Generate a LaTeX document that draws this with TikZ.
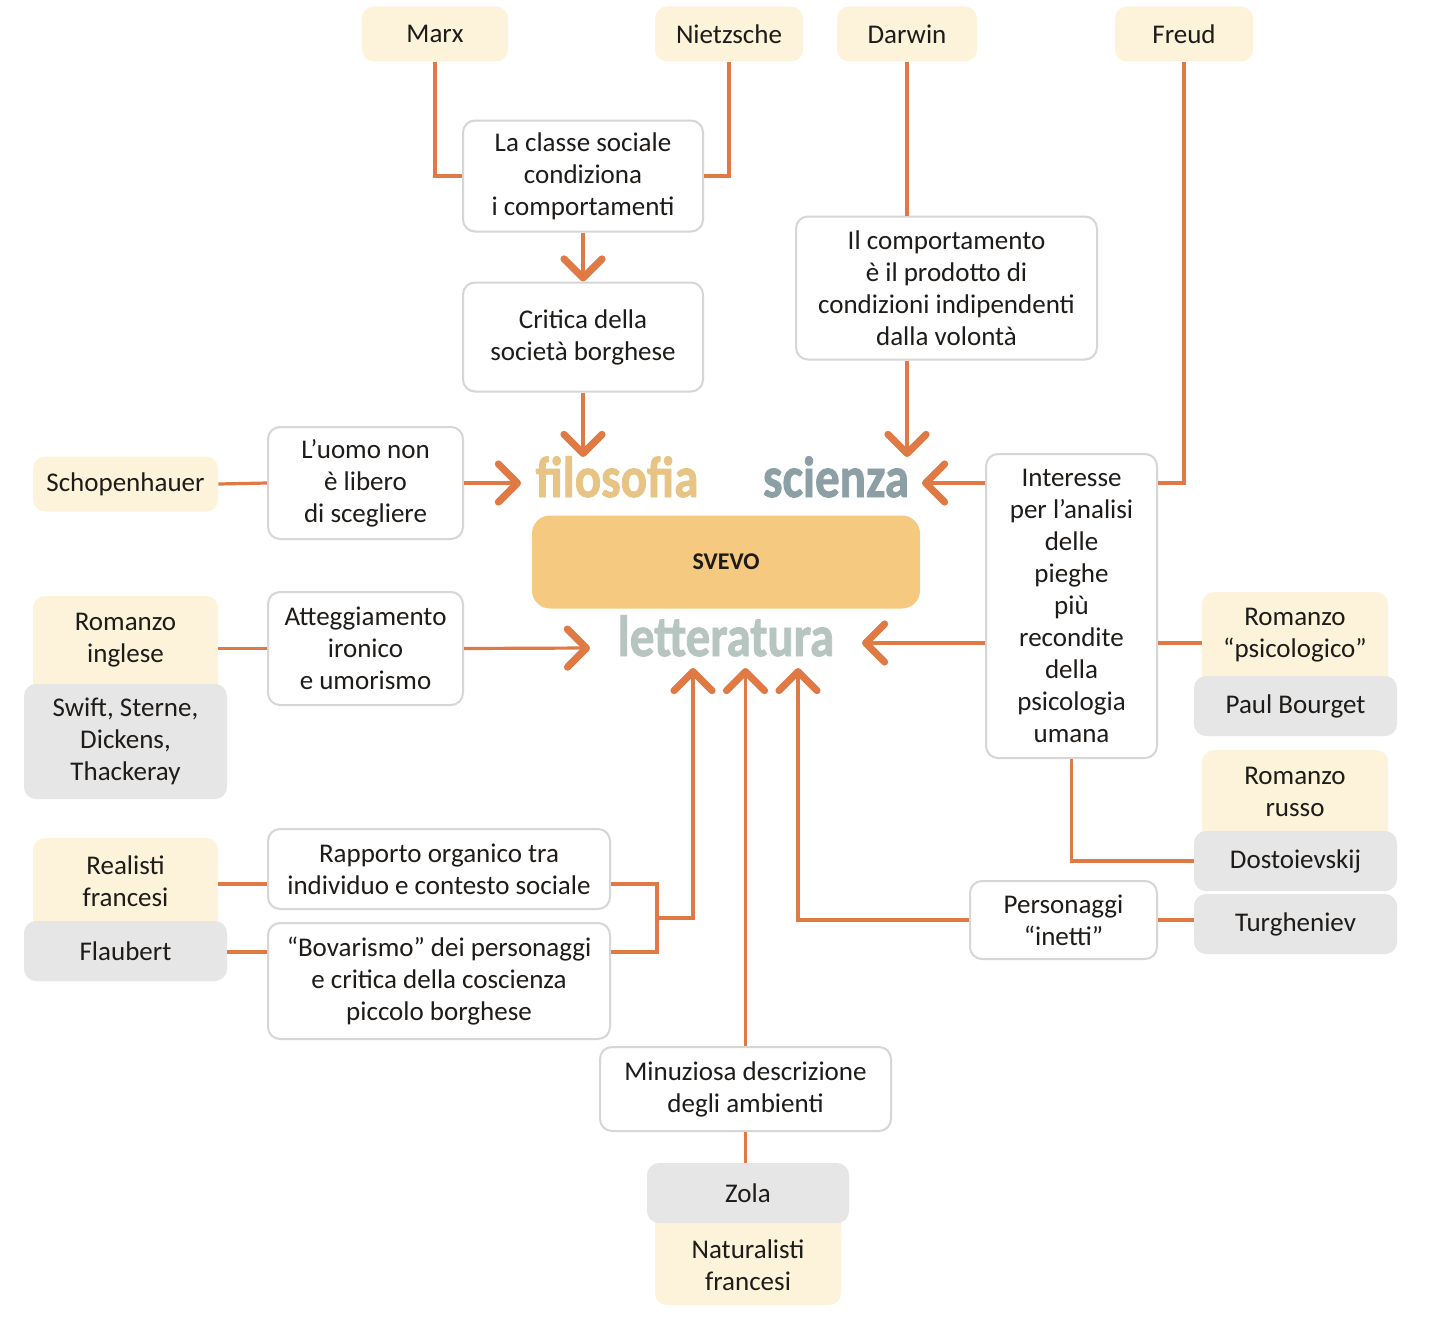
\documentclass[tikz,border=0pt]{standalone}
\usepackage{fontspec}
\setmainfont{Carlito}
\newfontfamily\headfont[BoldFeatures={FakeBold=1.6}]{Carlito}
\usetikzlibrary{arrows.meta}
\definecolor{orng}{HTML}{E07A45}
\definecolor{beig}{HTML}{FCF3DA}
\definecolor{gry}{HTML}{E6E6E6}
\definecolor{bord}{HTML}{D6D6D6}
\definecolor{svevoc}{HTML}{F5C97F}
\definecolor{filc}{HTML}{E8C484}
\definecolor{scic}{HTML}{8B9FA4}
\definecolor{letc}{HTML}{B7C5C1}
\definecolor{ink}{HTML}{1E1B18}
\begin{document}
\begin{tikzpicture}[x=0.5pt,y=-0.5pt,
 base/.style={align=center, inner sep=0pt, font=\fontsize{13.5}{16}\selectfont, text=ink, rounded corners=6pt},
 wbox/.style={base, draw=bord, line width=1pt, fill=white},
 bbox/.style={base, fill=beig},
 gbox/.style={base, fill=gry},
 tbox/.style={base},
 bgfill/.style={fill=beig, rounded corners=6pt},
 conn/.style={draw=orng, line width=1.6pt},
 arr/.style={conn, -{Straight Barb[length=9.5pt,width=19pt,line width=3.6pt,round]}},
 head/.style={inner sep=0pt, font=\fontsize{24.5}{28}\selectfont\headfont\bfseries}
]
\fill[white] (0,0) rectangle (1438,1322);
\useasboundingbox (0,0) rectangle (1438,1322);

% top row
\node[bbox, minimum width=73pt, minimum height=27.5pt] (marx) at (435,34) {Marx};
\node[bbox, minimum width=74pt, minimum height=27.5pt] (nietz) at (729,34) {Nietzsche};
\node[bbox, minimum width=70pt, minimum height=27.5pt] (darwin) at (907,34) {Darwin};
\node[bbox, minimum width=69pt, minimum height=27.5pt] (freud) at (1184,34) {Freud};

\node[wbox, minimum width=120pt, minimum height=55.5pt] (classe) at (583,176) {La classe sociale\\condiziona\\i comportamenti};
\node[wbox, minimum width=120pt, minimum height=54.5pt] (critica) at (583,337) {Critica della\\società borghese};
\node[wbox, minimum width=150.5pt, minimum height=71.5pt] (comp) at (946.5,288) {Il comportamento\\è il prodotto di\\condizioni indipendenti\\dalla volontà};

% centre
\node[base, fill=svevoc, rounded corners=9pt, minimum width=194pt, minimum height=46.5pt, font=\fontsize{12}{14}\selectfont\bfseries] (svevo) at (726,562) {SVEVO};
\node[head, text=filc, anchor=base] (fil) at (617,497) {\scalebox{1}[1.18]{filosofia}};
\node[head, text=scic, anchor=base] (sci) at (836,497) {\scalebox{1}[1.18]{scienza}};
\node[head, text=letc, anchor=base] (let) at (726,656) {\scalebox{1}[1.18]{letteratura}};

% left side
\node[bbox, minimum width=92.5pt, minimum height=27.5pt] (schop) at (125.5,484) {Schopenhauer};
\node[wbox, minimum width=97.5pt, minimum height=56pt] (uomo) at (365.5,483) {L’uomo non\\è libero\\di scegliere};

\fill[bgfill] (33,596) rectangle (218,700);
\node[gbox, minimum width=101.5pt, minimum height=57.5pt] (swift) at (125.5,741.5) {Swift, Sterne,\\Dickens,\\Thackeray};
\node[tbox, minimum width=92.5pt, minimum height=43pt] (ingl) at (125.5,640) {Romanzo\\inglese};
\node[wbox, minimum width=97.5pt, minimum height=56.5pt] (att) at (365.5,648.5) {Atteggiamento\\ironico\\e umorismo};

\fill[bgfill] (33,838) rectangle (218,935);
\node[gbox, minimum width=101.5pt, minimum height=30pt] (flau) at (125.5,951) {Flaubert};
\node[tbox, minimum width=92.5pt, minimum height=40pt] (real) at (125.5,881) {Realisti\\francesi};
\node[wbox, minimum width=171pt, minimum height=40pt] (rapp) at (439,869) {Rapporto organico tra\\individuo e contesto sociale};
\node[wbox, minimum width=171pt, minimum height=58pt] (bov) at (439,981) {“Bovarismo” dei personaggi\\e critica della coscienza\\piccolo borghese};

% bottom
\node[wbox, minimum width=145.5pt, minimum height=42pt] (minuz) at (745.5,1089) {Minuziosa descrizione\\degli ambienti};
\fill[bgfill] (655,1205) rectangle (841,1305);
\node[gbox, minimum width=101pt, minimum height=30pt] (zola) at (748,1193) {Zola};
\node[tbox, minimum width=93pt, minimum height=41.5pt] (natur) at (748,1265) {Naturalisti\\francesi};

% right side
\node[wbox, minimum width=85.5pt, minimum height=152pt] (inter) at (1071.5,606) {Interesse\\per l’analisi\\delle\\pieghe\\più\\recondite\\della\\psicologia\\umana};
\fill[bgfill] (1202,592) rectangle (1388,690);
\node[gbox, minimum width=101.5pt, minimum height=30pt] (bourget) at (1295.5,706) {Paul Bourget};
\node[tbox, minimum width=93pt, minimum height=41.5pt] (psico) at (1295,635) {Romanzo\\“psicologico”};
\fill[bgfill] (1202,750) rectangle (1388,845);
\node[gbox, minimum width=101.5pt, minimum height=30pt] (dosto) at (1295.5,861) {Dostoievskij};
\node[gbox, minimum width=101.5pt, minimum height=30pt] (turg) at (1295.5,924) {Turgheniev};
\node[tbox, minimum width=93pt, minimum height=40pt] (russo) at (1295,792) {Romanzo\\russo};
\node[wbox, minimum width=93.5pt, minimum height=39pt] (pers) at (1063.5,920) {Personaggi\\“inetti”};

% connector end points
\coordinate (filT) at (583,457);
\coordinate (filL) at (521,483);
\coordinate (sciT) at (907,457);
\coordinate (sciR) at (922,483);
\coordinate (letL) at (590,648);
\coordinate (letR) at (862,643);
\coordinate (letU1) at (693,668);
\coordinate (letU2) at (745.5,668);
\coordinate (letU3) at (798,668);
\coordinate (yR) at (0,884);
\coordinate (yB) at (0,952);
\coordinate (brk) at (657,918);

% connectors
\draw[conn] (marx.south) |- (classe.west);
\draw[conn] (nietz.south) |- (classe.east);
\draw[arr] (classe.south) -- (critica.north);
\draw[arr] (critica.south) -- (filT);
\draw[conn] (darwin.south) -- (darwin.south |- comp.north);
\draw[arr] (darwin.south |- comp.south) -- (sciT);
\draw[conn] (schop.east) -- (uomo.west);
\draw[arr] (uomo.east) -- (filL);
\draw[conn] (freud.south) |- (inter.east |- sciR);
\draw[arr] (inter.west |- sciR) -- (sciR);
\draw[arr] (inter.west |- letR) -- (letR);
\draw[conn] (inter.east |- letR) -- (psico.west |- letR);
\draw[conn] (ingl.east |- att.west) -- (att.west);
\draw[arr] (att.east) -- (letL);
\draw[conn] (inter.south) |- (dosto.west);
\draw[conn] (pers.east) -- (turg.west |- pers.east);
\draw[arr] (pers.west) -| (letU3);
\draw[conn] (real.east |- yR) -- (rapp.west |- yR);
\draw[conn] (flau.east |- yB) -- (bov.west |- yB);
\draw[conn] (rapp.east |- yR) -| (brk) |- (bov.east |- yB);
\draw[arr] (brk) -| (letU1);
\draw[arr] (minuz.north) -- (letU2);
\draw[conn] (minuz.south) -- (minuz.south |- zola.north);
\end{tikzpicture}
\end{document}
